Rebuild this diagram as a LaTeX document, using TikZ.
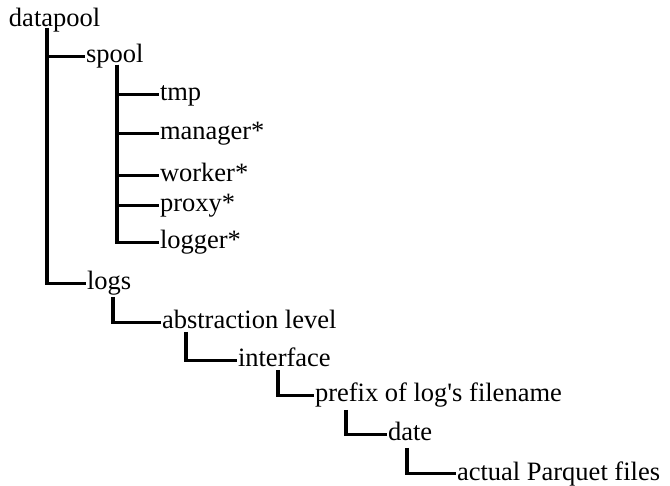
\documentclass[tikz,border=0pt]{standalone}
\usepackage{fontspec}
\setmainfont{Liberation Serif}
\begin{document}
\begin{tikzpicture}[x=1pt,y=-1pt,
  entry/.style={anchor=base west, inner xsep=1.5pt, inner ysep=0pt, outer sep=0pt,
    text height=13pt, text depth=0pt, font=\fontsize{26.5}{30}\selectfont},
  branch/.style={line width=3.6pt, line join=miter}]
\useasboundingbox (0,0) rectangle (670,486);

% directory entries
\node[entry] (datapool) at (7.5,27)  {datapool};
\node[entry] (spool)    at (84.5,63) {spool};
\node[entry] (tmp)      at (158.5,101) {tmp};
\node[entry] (manager)  at (158.5,140) {manager*};
\node[entry] (worker)   at (158.5,182) {worker*};
\node[entry] (proxy)    at (158.5,212) {proxy*};
\node[entry] (logger)   at (158.5,249) {logger*};
\node[entry] (logs)     at (85.5,290)  {logs};
\node[entry] (abstr)    at (160.5,329) {abstraction level};
\node[entry] (iface)    at (236.5,367) {interface};
\node[entry] (prefix)   at (313.5,402) {prefix of log\textquotesingle s filename};
\node[entry] (date)     at (386.5,441) {date};
\node[entry] (files)    at (455.5,480) {actual Parquet files};

% tree branches
\draw[branch] ([xshift=39.5pt,yshift=-1pt]datapool.base west) |- (spool.west);
\draw[branch] ([xshift=39.5pt,yshift=-1pt]datapool.base west) |- (logs.west);

\foreach \c in {tmp,manager,worker,proxy,logger}
  \draw[branch] ([xshift=32.5pt,yshift=-2pt]spool.base west) |- (\c.west);

\draw[branch] ([xshift=27.5pt,yshift=-7pt]logs.base west)   |- (abstr.west);
\draw[branch] ([xshift=25.5pt,yshift=-3pt]abstr.base west)  |- (iface.west);
\draw[branch] ([xshift=41.5pt,yshift=-3pt]iface.base west)  |- (prefix.west);
\draw[branch] ([xshift=32.5pt,yshift=-8pt]prefix.base west) |- (date.west);
\draw[branch] ([xshift=20.5pt,yshift=-7pt]date.base west)   |- (files.west);
\end{tikzpicture}
\end{document}
